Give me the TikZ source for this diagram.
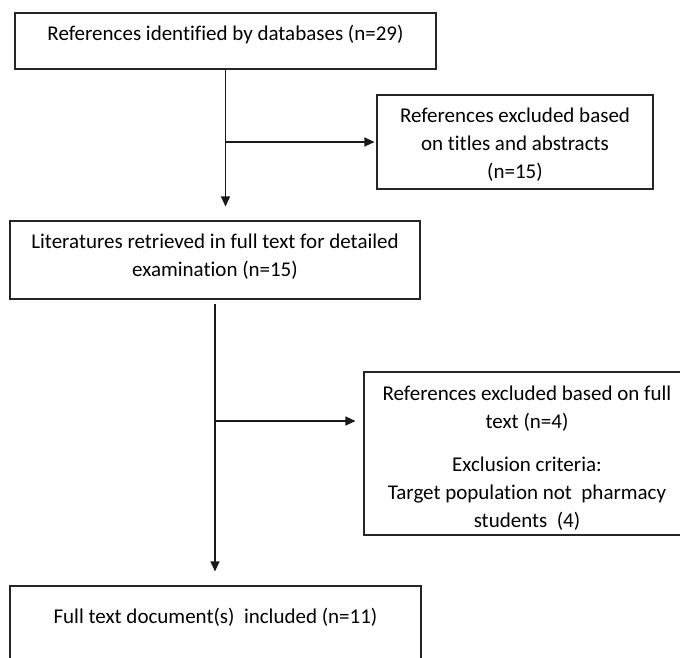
\documentclass[tikz,border=0pt]{standalone}
\usepackage{fontspec}
\setmainfont[Ligatures=NoCommon]{Carlito}
\usetikzlibrary{arrows.meta}

\begin{document}
\begin{tikzpicture}[x=1pt,y=-1pt,
	caja/.style={draw=black!85,line width=1.1pt,align=center,inner sep=0pt,
		font=\fontsize{21}{28}\selectfont},
	flecha/.style={-{Triangle[length=10pt,width=9pt]},line width=1.1pt,black!90}]
	\useasboundingbox (0,0) rectangle (680,657);
	\clip (0,0) rectangle (680,657);

	% cajas principales
	\node[caja,minimum width=421pt,minimum height=56pt,text height=14pt,text depth=16pt]
		(refs) at (225.5,41) {References identified by databases (n=29)};
	\node[caja,minimum width=410pt,minimum height=78pt,text height=43pt,text depth=10pt]
		(lit) at (215,260) {Literatures retrieved in full text for detailed\\examination (n=15)};
	\node[caja,minimum width=411pt,minimum height=80pt,text height=14pt,text depth=20pt]
		(incl) at (215.5,626) {Full text document(s)\ \ included (n=11)};

	% cajas de exclusion
	\node[caja,minimum width=276pt,minimum height=94pt,text height=74pt,text depth=2pt]
		(excl1) at (515,142) {References excluded based\\on titles and abstracts\\(n=15)};
	\node[caja,minimum width=326pt,minimum height=163pt,text height=147pt,text depth=0pt]
		(excl2) at (527,453.5) {References excluded based on full\\text (n=4)\\[15pt]
		Exclusion criteria:\\Target population not\ \ pharmacy\\students\ \ (4)};
	\coordinate (hit) at ([yshift=32.5pt]excl2.west);

	% flechas
	\draw[flecha,shorten >=14pt] (refs.south) -- (refs.south |- lit.north);
	\draw[flecha,shorten >=2pt] (refs.south |- excl1.west) -- (excl1.west);
	\draw[flecha,shorten <=4pt,shorten >=14pt] (lit.south) -- (lit.south |- incl.north);
	\draw[flecha,shorten >=8pt] (lit.south |- hit) -- (hit);
\end{tikzpicture}
\end{document}
